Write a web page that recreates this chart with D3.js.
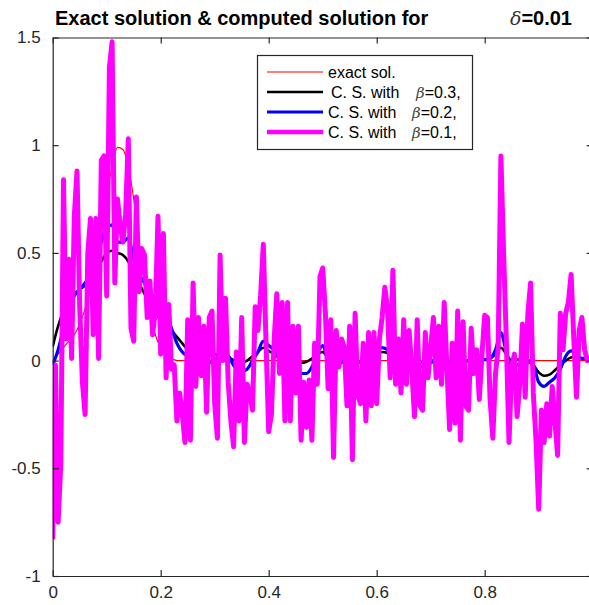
<!DOCTYPE html>
<html>
<head>
<meta charset="utf-8">
<script src="https://cdn.jsdelivr.net/npm/d3@7"></script>
<style>
  html, body { margin: 0; padding: 0; background: #fff; }
  svg { display: block; font-family: "Liberation Sans", Arial, Helvetica, sans-serif; }
</style>
</head>
<body>
<svg id="chart" width="589" height="605"></svg>
<script>
// ---- data ----------------------------------------------------------------
const xTicks = [0, 0.2, 0.4, 0.6, 0.8, 1];
const xTickLabels = ["0", "0.2", "0.4", "0.6", "0.8", "1"];
const yTicks = [-1, -0.5, 0, 0.5, 1, 1.5];
const yTickLabels = ["-1", "-0.5", "0", "0.5", "1", "1.5"];

// exact solution
const exactX = [0, 0.01, 0.02, 0.03, 0.04, 0.05, 0.06, 0.07, 0.08, 0.09, 0.10, 0.11, 0.12,
  0.13, 0.14, 0.15, 0.16, 0.17, 0.18, 0.19, 0.20, 0.21, 0.22, 0.23, 1.0];
const exactY = [0, 0.03, 0.06, 0.09, 0.12, 0.17, 0.24, 0.33, 0.45, 0.60, 0.76, 0.90, 0.99,
  0.98, 0.90, 0.75, 0.55, 0.37, 0.22, 0.12, 0.06, 0.025, 0.01, 0, 0];

// smoother computed solutions, sampled every 0.01
const smoothStep = 0.01;
const beta03 = [0.065, 0.16, 0.23, 0.28, 0.31, 0.33, 0.35, 0.38, 0.42, 0.46,
  0.50, 0.51, 0.50, 0.49, 0.46, 0.41, 0.36, 0.31, 0.27, 0.22,
  0.19, 0.17, 0.14, 0.11, 0.08, 0.05, 0.03, 0.02, 0.02, 0.025,
  0.03, 0.025, 0.03, 0.01, -0.005, -0.01, 0.0, 0.02, 0.04, 0.06,
  0.045, 0.03, 0.01, 0.0, -0.01, -0.01, -0.01, -0.005, 0.01, 0.03,
  0.04, 0.01, 0.0, -0.005, 0.0, 0.0, 0.0, -0.005, 0.0, 0.015,
  0.03, 0.04, 0.035, 0.01, 0.0, 0.0, -0.005, -0.01, -0.01, -0.005,
  0.0, 0.0, 0.005, 0.0, -0.005, -0.005, -0.005, 0.0, 0.0, 0.005,
  0.005, 0.01, 0.03, 0.06, 0.03, 0.0, 0.005, 0.005, -0.005, -0.02,
  -0.055, -0.07, -0.065, -0.045, -0.02, 0.0, 0.015, 0.02, 0.01, 0.01];
const beta02 = [-0.02, 0.05, 0.15, 0.25, 0.30, 0.33, 0.36, 0.40, 0.46, 0.55,
  0.62, 0.63, 0.55, 0.55, 0.57, 0.47, 0.40, 0.36, 0.32, 0.28,
  0.26, 0.22, 0.15, 0.08, 0.04, 0.02, 0.0, -0.02, -0.02, -0.01,
  0.0, 0.03, 0.04, 0.0, -0.04, -0.05, -0.04, 0.0, 0.04, 0.09,
  0.07, 0.05, 0.02, 0.0, -0.02, -0.04, -0.06, -0.06, -0.03, 0.03,
  0.07, 0.0, -0.03, -0.02, 0.0, 0.0, 0.0, -0.01, 0.0, 0.02,
  0.05, 0.06, 0.05, 0.01, 0.0, -0.01, -0.03, -0.04, -0.03, -0.02,
  -0.01, 0.0, 0.01, 0.0, -0.02, -0.02, -0.01, 0.0, -0.01, 0.0,
  0.005, 0.01, 0.05, 0.13, 0.04, -0.03, -0.02, -0.01, 0.0, -0.02,
  -0.10, -0.12, -0.10, -0.08, -0.04, 0.02, 0.045, 0.03, 0.01, 0.01];

// noisy computed solution, sampled every 0.005
const noisyStep = 0.005;
const beta01 = [-0.83, -0.02, -0.75, -0.48, 0.84, 0.10, 0.47, 0.01, 0.67, 0.88,
  0.25, -0.10, -0.25, 0.50, 0.66, 0.12, 0.66, 0.01, 0.93, 0.95,
  0.30, 1.36, 1.48, 0.36, 0.75, 0.63, 0.55, 0.68, 1.03, 0.15,
  0.09, 0.76, 0.32, 0.52, 0.49, 0.20, 0.37, 0.12, 0.23, 0.67,
  0.03, 0.59, -0.08, 0.26, -0.04, -0.02, -0.28, -0.15, -0.25, -0.38,
  0.19, -0.37, 0.36, -0.12, 0.20, -0.07, 0.16, -0.24, 0.20, 0.23,
  -0.20, -0.36, 0.49, 0.00, 0.29, -0.10, -0.28, -0.40, 0.04, -0.28,
  0.20, -0.38, -0.11, -0.15, -0.23, 0.25, 0.14, 0.30, 0.54, 0.09,
  -0.33, -0.25, 0.09, 0.31, -0.06, 0.27, -0.28, 0.27, -0.28, 0.16,
  -0.15, 0.16, -0.37, -0.10, -0.31, -0.09, -0.37, 0.08, -0.11, 0.39,
  0.43, 0.22, -0.13, 0.19, -0.45, 0.14, -0.03, 0.10, 0.06, -0.21,
  0.16, -0.46, 0.22, -0.16, -0.20, 0.08, -0.28, 0.13, -0.21, 0.13,
  -0.20, 0.10, 0.20, 0.34, 0.24, -0.08, 0.42, -0.11, 0.10, -0.15,
  0.19, -0.11, 0.14, -0.04, -0.26, 0.19, -0.21, -0.23, 0.13, -0.08,
  0.06, 0.20, -0.08, 0.16, -0.11, 0.27, -0.03, -0.32, 0.08, -0.29,
  0.23, -0.37, 0.18, -0.21, -0.23, 0.15, -0.06, 0.05, -0.18, 0.03,
  0.21, 0.20, -0.18, -0.36, -0.06, 0.06, 0.95, 0.50, 0.10, -0.38,
  -0.03, 0.03, -0.26, -0.10, 0.17, -0.17, 0.22, 0.36, -0.15, -0.37,
  -0.69, -0.23, -0.38, -0.20, -0.35, -0.12, -0.28, -0.44, 0.22, 0.05,
  0.22, 0.27, 0.40, 0.10, -0.17, 0.14, 0.20, 0.05, 0.00, 0.02];

const legendLabels = ["exact sol.", " C. S. with", "C. S. with", "C. S. with"];
const legendBetas = ["", "0.3,", "0.2,", "0.1,"];

// ---- layout --------------------------------------------------------------
const svg = d3.select("#chart");
const plotLeft = 52.7, plotRight = 592.7, plotTop = 37.5, plotBottom = 576;
const axisColor = "#262626";

const x = d3.scaleLinear().domain([0, 1]).range([plotLeft, plotRight]);
const y = d3.scaleLinear().domain([-1, 1.5]).range([plotBottom, plotTop]);

svg.append("defs").append("clipPath").attr("id", "plotClip")
  .append("rect").attr("x", plotLeft).attr("y", plotTop)
  .attr("width", plotRight - plotLeft).attr("height", plotBottom - plotTop);

// ---- series --------------------------------------------------------------
const series = [
  { pts: exactX.map((v, i) => [v, exactY[i]]), color: "#ff0000", width: 1.1, curve: d3.curveMonotoneX },
  { pts: beta03.map((v, i) => [i * smoothStep, v]), color: "#000000", width: 2.6, curve: d3.curveMonotoneX },
  { pts: beta02.map((v, i) => [i * smoothStep, v]), color: "#0000ff", width: 3.2, curve: d3.curveMonotoneX },
  { pts: beta01.map((v, i) => [i * noisyStep, v]), color: "#ff00ff", width: 5, curve: d3.curveLinear }
];

const plot = svg.append("g").attr("clip-path", "url(#plotClip)");
series.forEach(s => {
  plot.append("path")
    .datum(s.pts)
    .attr("fill", "none")
    .attr("stroke", s.color)
    .attr("stroke-width", s.width)
    .attr("stroke-linejoin", "round")
    .attr("d", d3.line().x(d => x(d[0])).y(d => y(d[1])).curve(s.curve));
});

// ---- axes (boxed, ticks pointing inward) ---------------------------------
function styleAxis(g) {
  g.selectAll(".domain").attr("stroke", axisColor).attr("stroke-width", 1.2);
  g.selectAll(".tick line").attr("stroke", axisColor).attr("stroke-width", 1.2);
  g.selectAll(".tick text").attr("fill", axisColor)
    .style("font-family", "'Liberation Sans', Arial, sans-serif").style("font-size", "17px");
}

svg.append("g").attr("transform", `translate(0,${plotBottom})`)
  .call(d3.axisBottom(x).tickValues(xTicks).tickSize(-6).tickPadding(10)
    .tickFormat((d, i) => xTickLabels[i]).tickSizeOuter(0))
  .call(styleAxis);

svg.append("g").attr("transform", `translate(0,${plotTop})`)
  .call(d3.axisTop(x).tickValues(xTicks).tickSize(-6).tickFormat("").tickSizeOuter(0))
  .call(styleAxis);

svg.append("g").attr("transform", `translate(${plotLeft},0)`)
  .call(d3.axisLeft(y).tickValues(yTicks).tickSize(-6).tickPadding(12)
    .tickFormat((d, i) => yTickLabels[i]).tickSizeOuter(0))
  .call(styleAxis);

svg.append("g").attr("transform", `translate(${plotRight},0)`)
  .call(d3.axisRight(y).tickValues(yTicks).tickSize(-6).tickFormat("").tickSizeOuter(0))
  .call(styleAxis);

// ---- title ---------------------------------------------------------------
svg.append("text")
  .attr("x", 55).attr("y", 25)
  .attr("font-size", 20).attr("font-weight", "bold").attr("fill", "#000")
  .text("Exact solution & computed solution for");

const tt = svg.append("text")
  .attr("x", 572).attr("y", 25).attr("text-anchor", "end")
  .attr("font-size", 20).attr("fill", "#000");
tt.append("tspan").attr("font-style", "italic").attr("font-family", "'DejaVu Serif', serif")
  .attr("font-size", 19).attr("fill", "#333").text("δ");
tt.append("tspan").attr("font-weight", "bold").text("=0.01");

// ---- legend --------------------------------------------------------------
const lg = svg.append("g");
lg.append("rect")
  .attr("x", 257.5).attr("y", 55.5).attr("width", 215).attr("height", 94)
  .attr("fill", "#fff").attr("stroke", axisColor).attr("stroke-width", 1.2);

const rowY = [72, 92, 112, 132];
series.forEach((s, i) => {
  lg.append("line")
    .attr("x1", 267).attr("x2", 323)
    .attr("y1", rowY[i]).attr("y2", rowY[i])
    .attr("stroke", s.color).attr("stroke-width", Math.min(s.width, 4.6));
  const t = lg.append("text")
    .attr("x", i === 1 ? 331 : 328).attr("y", rowY[i] + 6)
    .attr("font-size", 16).attr("fill", "#000");
  t.append("tspan").text(legendLabels[i].trim());
  if (legendBetas[i]) {
    t.append("tspan").attr("x", i === 1 ? 416 : 412)
      .attr("font-style", "italic").attr("font-family", "'DejaVu Serif', serif")
      .attr("font-size", 15).attr("fill", "#444").text("β");
    t.append("tspan").text("=" + legendBetas[i]);
  }
});
</script>
</body>
</html>
